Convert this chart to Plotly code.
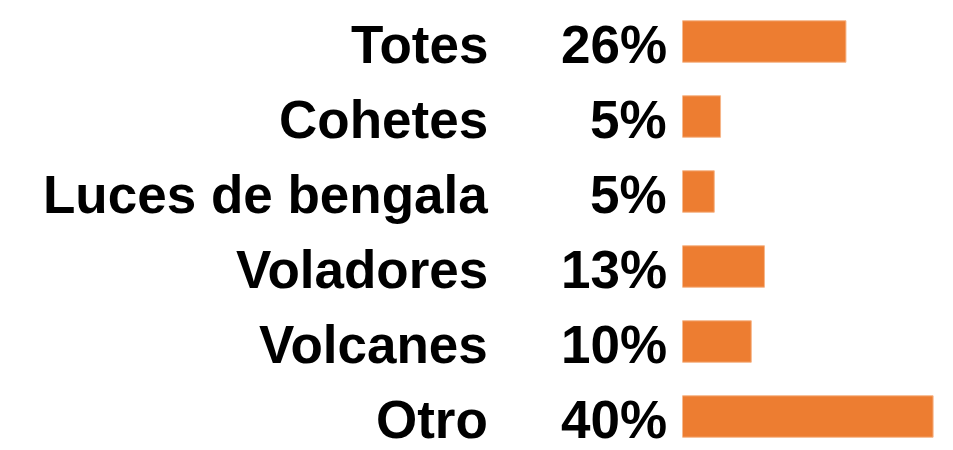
import plotly.graph_objects as go

# data
categories = ["Totes", "Cohetes", "Luces de bengala", "Voladores", "Volcanes", "Otro"]
bar_values = [26.1, 6.1, 5.1, 13.1, 11.0, 40.0]
pct_labels = ["26%", "5%", "5%", "13%", "10%", "40%"]

# the page body adds an 8px margin, so lay out in page pixels minus 8
OFF = 8
W, H = 953 - OFF, 450 - OFF
bar_x0 = 682.3 - OFF   # pixel where bars start
px_per_unit = 6.27     # bar scale
row0, row_step = 41.5 - OFF, 75.0

positions = list(range(len(categories)))

fig = go.Figure(go.Bar(
    x=bar_values,
    y=positions,
    orientation="h",
    width=0.553,
    marker=dict(color="#ED7D31", line=dict(color="#F6B68A", width=1)),
    hoverinfo="skip",
))

font = dict(family="Liberation Sans, Arial, sans-serif", size=53, color="#000000")
annotations = []
for i, (name, pct) in enumerate(zip(categories, pct_labels)):
    annotations.append(dict(x=(490 - OFF) / W, y=i, xref="paper", yref="y", text=f"<b>{name}</b>",
                            showarrow=False, xanchor="right", yanchor="middle", yshift=-2.5, font=font))
    annotations.append(dict(x=(669 - OFF) / W, y=i, xref="paper", yref="y", text=f"<b>{pct}</b>",
                            showarrow=False, xanchor="right", yanchor="middle", yshift=-2.5, font=font))

fig.update_layout(
    width=W, height=H,
    margin=dict(l=0, r=0, t=0, b=0),
    paper_bgcolor="white", plot_bgcolor="white",
    showlegend=False,
    xaxis=dict(domain=[bar_x0 / W, 1], range=[0, (W - bar_x0) / px_per_unit],
               visible=False, fixedrange=True),
    yaxis=dict(range=[(H - row0) / row_step, -row0 / row_step],
               visible=False, fixedrange=True),
    annotations=annotations,
)

fig.write_html("out.html")
